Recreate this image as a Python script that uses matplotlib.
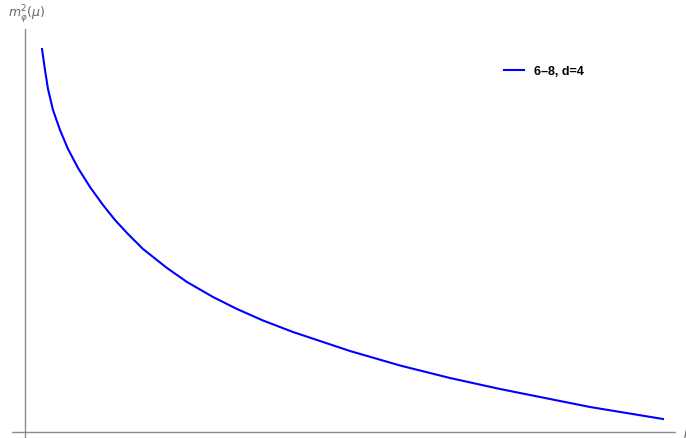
import numpy as np
from matplotlib import pyplot as plt

# curve (arbitrary units, no ticks shown)
mu = [0.272, 0.32, 0.368, 0.448, 0.56, 0.688, 0.848, 1.04, 1.248, 1.44,
      1.632, 1.888, 2.272, 2.592, 3.008, 3.392, 3.808, 4.288, 4.72,
      5.2, 6.0, 6.8, 7.6, 8.24, 9.04, 10.208]
m2 = [9.575, 9.05, 8.575, 8.05, 7.55, 7.075, 6.6, 6.125, 5.675, 5.3,
      4.975, 4.575, 4.1, 3.75, 3.375, 3.075, 2.7875, 2.5, 2.275,
      2.025, 1.6625, 1.35, 1.075, 0.875, 0.625, 0.325]
series_label = "6\u20138, d=4"

W, H = 686, 439
fig = plt.figure(figsize=(W/100, H/100), dpi=100)
ax = fig.add_axes([12/W, 0, 664/W, 409/H])

ax.plot(mu, m2, color='#0000ff', lw=1.5, label=series_label,
        solid_joinstyle='round')
ax.set_xlim(-0.208, 10.416)
ax.set_ylim(-0.15, 10.075)

# mathematica-style axes through the origin
ax.axhline(0, color='#8c8c8c', lw=1.0, zorder=0)
ax.axvline(0, color='#8c8c8c', lw=1.0, zorder=0)
for s in ax.spines.values():
    s.set_visible(False)
ax.set_xticks([])
ax.set_yticks([])

fig.text(27/W, 1 - 14/H, r"$m_{\varphi}^{2}(\mu)$", color='#666666',
         fontsize=9, ha='center', va='center')
fig.text(683/W, 1 - 435/H, r"$\mu$", color='#666666',
         fontsize=9, ha='left', va='center')

leg = ax.legend(loc='center left', bbox_to_anchor=(498/W, 1 - 72/H),
                bbox_transform=fig.transFigure, frameon=False,
                handlelength=1.6, handletextpad=0.8, borderpad=0,
                prop={'family': 'Liberation Sans', 'weight': 'bold', 'size': 9})

fig.savefig('out.png', dpi=100)
